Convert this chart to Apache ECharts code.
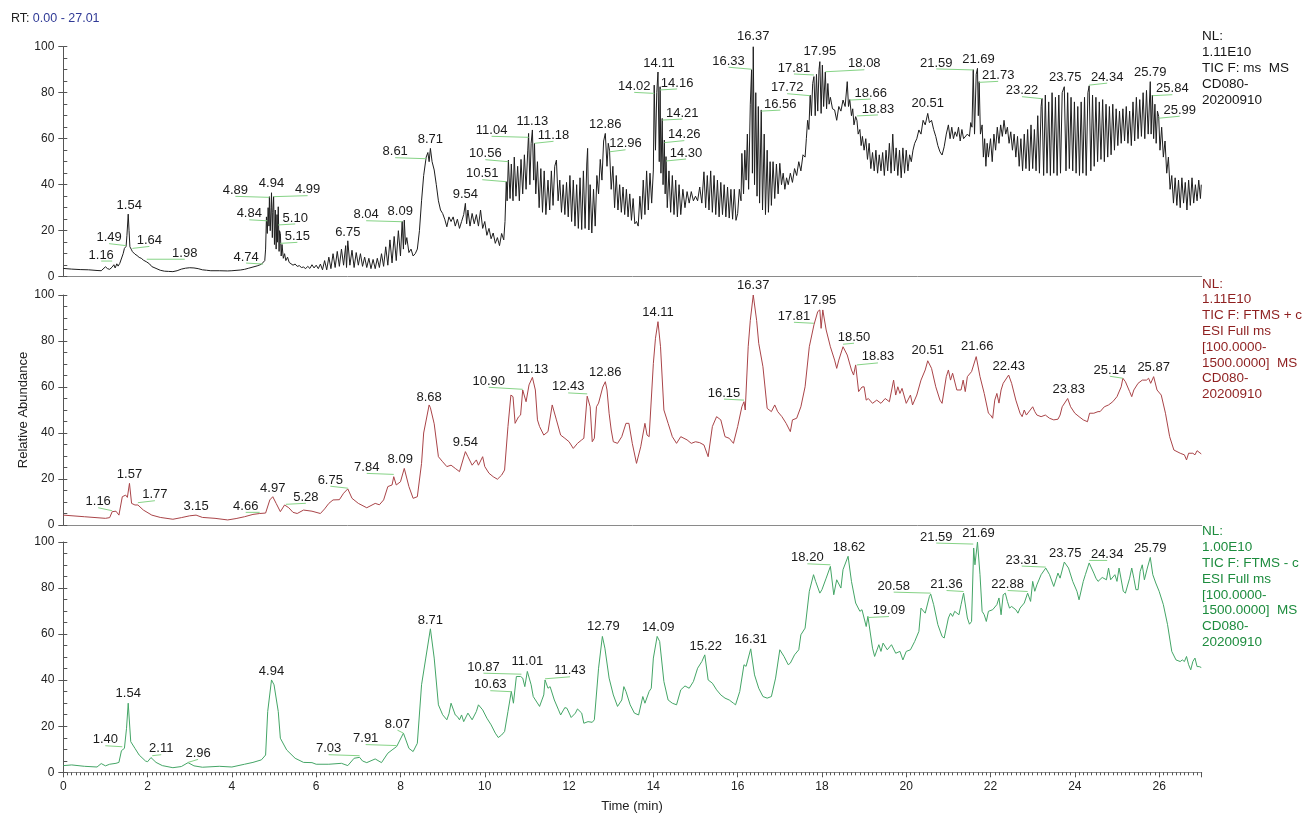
<!DOCTYPE html>
<html>
<head>
<meta charset="utf-8">
<title>TIC CD080-20200910</title>
<script src="https://cdn.jsdelivr.net/npm/echarts@6/dist/echarts.min.js"></script>
<style>
    html, body { margin: 0; padding: 0; background: #fff; }
    #tic { width: 1302px; height: 813px; }
</style>
</head>
<body>
<div id="tic"></div>
<script>
// 数据: [保留时间(min), 相对丰度]
var topTrace = [
    [0,3.6],[0.2,3.3],[0.4,3.1],[0.6,3],[0.8,2.7],[0.9,2.6],[1.0,4.3],[1.05,3.5],[1.1,3.2],[1.16,4.2],[1.2,5.2],[1.23,3.8],[1.27,5.6],[1.3,4.6],[1.34,5.8],[1.38,6.5],[1.42,10],[1.45,12.3],[1.49,13.2],[1.51,18],[1.54,27.2],[1.56,20],[1.58,13],[1.61,12],[1.64,10.9],[1.7,9.8],[1.75,9.2],[1.8,8.4],[1.85,8],[1.9,7.2],[1.94,7.5],[1.98,6.4],[2.05,5.5],[2.1,4.4],[2.2,3.6],[2.3,2.8],[2.4,2.4],[2.5,2.3],[2.6,2.2],[2.7,2.6],[2.8,3.3],[2.9,3.7],[3.0,3.9],[3.1,3.8],[3.2,3.5],[3.3,3.0],[3.4,2.8],[3.5,2.6],[3.7,2.6],[3.9,2.5],[4.0,2.6],[4.2,2.9],[4.3,3.2],[4.4,3.7],[4.5,4.2],[4.6,4.7],[4.7,5.4],[4.74,5.8],[4.78,7],[4.8,12],[4.82,26],[4.84,18.8],[4.86,30],[4.88,22],[4.89,34.8],[4.91,20],[4.93,30],[4.94,36.5],[4.96,17],[4.97,28],[4.99,34.8],[5.01,14],[5.03,29],[5.05,12],[5.07,27],[5.08,15],[5.10,30.4],[5.12,11],[5.13,20],[5.15,18.8],[5.17,9],[5.19,14],[5.22,8],[5.25,10],[5.28,7],[5.32,8.5],[5.36,6.2],[5.4,6.8],[5.45,5],[5.5,5.5],[5.55,4.5],[5.6,4.8],[5.65,4],[5.7,4.2],[5.75,3.5],[5.8,4.5],[5.85,3.6],[5.9,5.2],[5.95,3.8],[6.0,5],[6.05,3.5],[6.1,5.5],[6.15,3],
    [6.2,7],[6.25,3],[6.3,8.5],[6.35,3.5],[6.4,10],[6.45,4],[6.5,11],[6.55,4.5],[6.6,12],[6.65,5],[6.7,13.5],[6.72,4],[6.75,15.6],[6.8,5],[6.85,11.5],[6.9,4],[6.95,10.5],[7.0,5],[7.05,10],[7.1,4.5],[7.15,8.5],[7.2,4],[7.25,8],[7.3,3.5],[7.35,7.5],[7.4,3.5],[7.45,8],[7.5,4],[7.55,10],[7.6,4.5],[7.65,13],[7.7,5],[7.75,16],[7.8,6],[7.85,17.5],[7.9,7],[7.95,20],[8.0,9],[8.04,24],[8.07,12],[8.09,24.6],[8.12,14],[8.15,17],[8.2,10.5],[8.25,12],[8.3,9],[8.35,10],[8.4,12],[8.45,20],[8.5,33],[8.55,44],[8.6,50.7],[8.61,52],[8.65,54],[8.68,50],[8.71,55.8],[8.75,50],[8.8,46.4],[8.85,40],[8.9,33],[8.95,29],[9.0,27.5],[9.05,25],[9.1,21.7],
    [9.15,26],[9.2,24],[9.25,26],[9.3,22],[9.35,25],[9.4,21],[9.45,24],[9.5,27],[9.54,31.9],[9.57,23],[9.6,29],[9.65,22],[9.7,27.5],[9.75,23],[9.8,27],[9.85,22],[9.9,29],[9.95,21],[10.0,24],[10.05,18],[10.1,21],[10.15,16.5],[10.2,19],[10.25,14.5],[10.3,17],[10.35,13.5],[10.4,18.8],[10.45,16],[10.48,24],[10.51,41.3],
    [10.53,33],[10.56,50.7],[10.6,34],[10.63,49],[10.67,33],[10.7,52],[10.74,35],[10.78,48],[10.82,33],[10.86,51],[10.9,36],[10.94,53],[10.98,38],[11.02,55],[11.04,62.3],[11.07,40],[11.1,58],[11.13,63.8],[11.16,42],[11.18,58],[11.21,36],[11.25,50],[11.29,30],[11.33,47],[11.37,28],[11.41,46],[11.45,27],[11.5,42],[11.54,29],[11.58,46],[11.62,31],[11.66,48],[11.7,50.7],[11.74,33],[11.78,42],[11.82,28],[11.86,40],[11.9,27],[11.94,41],[11.98,26],[12.02,44],[12.06,24],[12.1,42],[12.14,22],[12.18,40],[12.22,21],[12.26,43],[12.3,20.5],[12.34,46],[12.38,21],[12.42,49],[12.44,55.8],[12.47,20.3],[12.5,40],[12.54,19],[12.58,38],[12.62,22],[12.66,44],[12.7,36],[12.74,51],[12.78,42],[12.82,59],[12.86,62.3],[12.9,48],[12.93,58],[12.96,55],[13.0,38],[13.04,48],[13.08,30],[13.12,44],[13.16,29],[13.2,40],[13.24,28],[13.28,39],[13.32,27],[13.36,38],[13.4,26],[13.44,36],[13.48,24.5],[13.52,34],[13.56,23],[13.6,24],[13.64,22],[13.68,35],[13.72,25],[13.76,42],[13.8,27],[13.84,46],[13.88,29],[13.92,45],[13.96,32],[14.0,46.4],
    [14.02,83.3],[14.05,55],[14.08,80],[14.11,89],[14.14,50],[14.16,82.6],[14.18,45],[14.21,68.8],[14.23,40],[14.26,59.4],[14.28,36],[14.3,52.2],[14.33,30],[14.37,46],[14.41,28],[14.45,44],[14.49,27],[14.53,42],[14.57,26],[14.61,40],[14.65,27],[14.7,38],[14.75,30],[14.8,37],[14.85,32],[14.9,37],[14.95,33],[15.0,35],[15.05,33],[15.1,39],[15.15,32],[15.2,45.6],[15.24,30],[15.28,44],[15.32,29],[15.36,46],[15.4,28],[15.44,44],[15.48,27],[15.52,42],[15.56,26],[15.6,41],[15.64,27],[15.68,40],[15.72,26],[15.76,39],[15.8,25.5],[15.84,38],[15.88,25],[15.92,38],[15.96,24.5],[16.0,27.5],[16.04,38],[16.08,33],[16.1,53.6],[16.14,36],[16.17,55],[16.2,42],[16.23,62],[16.26,38],[16.3,75],[16.33,90],[16.35,45],[16.37,100],[16.4,40],[16.43,80],[16.46,35],[16.49,74],[16.52,32],[16.56,72.5],[16.59,29],[16.63,62],[16.66,27],[16.7,55],[16.73,28],[16.77,50],[16.8,31],[16.84,50],[16.88,34],[16.92,49],[16.96,36],[17.0,49.3],[17.04,40],[17.08,45],[17.12,38],[17.16,43],[17.2,40],[17.25,45],[17.3,41],[17.35,47],[17.4,44],[17.45,50],[17.5,46],[17.55,53],[17.6,52],[17.63,60],[17.66,68],[17.69,64],[17.72,79],[17.75,70],[17.78,84],[17.81,87],[17.84,70],[17.87,88],[17.9,72],[17.93,90],[17.95,93.5],[17.98,71],[18.01,92],[18.04,74],[18.08,89],[18.11,73],[18.14,84],[18.17,75],[18.2,78],[18.25,73],[18.3,72.5],[18.35,68],[18.4,74],[18.45,72],[18.5,76.8],[18.55,74],[18.6,84.8],[18.63,74],[18.66,77],[18.7,70],[18.73,73],[18.76,66],[18.8,69.6],[18.83,68],[18.86,62],[18.9,64],[18.93,57],[18.96,61],[19.0,55],
    [19.04,60],[19.08,51],[19.12,58],[19.16,47],[19.2,54],[19.24,46],[19.28,55],[19.32,45],[19.36,53],[19.4,46],[19.44,54],[19.48,44],[19.52,55],[19.56,46],[19.6,58],[19.64,45],[19.68,62],[19.72,46],[19.76,56],[19.8,44],[19.84,55],[19.88,43],[19.92,56],[19.96,45],[20.0,55],[20.04,46],[20.08,53],[20.12,50],[20.16,55],[20.2,58],[20.25,60],[20.3,63.8],[20.35,62],[20.4,68],[20.45,66],[20.51,71],[20.55,67],[20.6,68],[20.65,64],[20.7,61],[20.75,57],[20.8,54.3],[20.85,52.9],[20.9,56.5],[20.95,62],[21.0,66],[21.04,60],[21.08,65],[21.12,60],[21.16,63],[21.2,61],[21.24,65],[21.28,59],[21.32,64],[21.36,60],[21.4,59.4],[21.45,62],[21.5,61],[21.53,67],[21.56,65],[21.59,90],[21.62,62],[21.66,88],[21.69,90.6],[21.71,70],[21.73,84.8],[21.76,62],[21.8,66],[21.83,52],[21.86,60],[21.89,48],[21.92,58],[21.95,52],[22.0,60],[22.04,50],[22.08,62],[22.12,55],[22.16,65],[22.2,58],[22.24,66],[22.28,61],[22.32,68],[22.36,62],[22.4,65],[22.44,58],[22.48,63],[22.52,55],[22.56,62],[22.6,52],[22.64,61],[22.68,48],[22.72,60],
    [22.76,46],[22.8,62],[22.84,47],[22.88,64],[22.92,46],[22.96,66],[23.0,47],[23.04,64],[23.08,46],[23.12,70],[23.16,45],[23.2,74],[23.22,77.5],[23.26,44],[23.3,79],[23.34,45],[23.38,76],[23.42,44],[23.46,80],[23.5,45],[23.54,78],[23.58,44],[23.62,79],[23.66,45],[23.7,80],[23.75,82.6],[23.79,46],[23.83,80],[23.87,47],[23.91,78],[23.95,46],[23.99,76],[24.03,45],[24.07,74],[24.11,44],[24.15,76],[24.19,45],[24.23,78],[24.27,44],[24.31,80],[24.34,83],[24.38,46],[24.42,79],[24.46,48],[24.5,78],[24.54,50],[24.58,76],[24.62,51],[24.66,77],[24.7,50],[24.74,75],[24.78,52],[24.82,74],[24.86,53],[24.9,75],[24.94,55],[24.98,73],[25.02,57],[25.06,72],[25.1,58],[25.14,73],[25.18,59],[25.22,74],[25.26,58],[25.3,72],[25.34,57],[25.38,76],[25.42,59],[25.46,78],[25.5,60],[25.54,77],[25.58,61],[25.62,80],[25.66,60],[25.7,81],[25.74,62],[25.79,84.8],[25.81,62],[25.84,79],[25.87,60],[25.9,75],[25.93,58],[25.96,72],[25.99,69.6],[26.02,55],[26.06,65],[26.1,52],[26.14,59],[26.18,45],[26.22,52],
    [26.26,38],[26.3,44],[26.34,32],[26.38,43],[26.42,31],[26.46,42],[26.5,30],[26.54,43],[26.58,32],[26.62,41],[26.66,29],[26.7,42],[26.74,31],[26.78,43],[26.82,32],[26.86,40],[26.9,33],[26.94,42],[26.98,34],[27.0,40]
];
var midTrace = [
    [0,4.3],[0.5,3.6],[1.0,2.9],[1.1,3.2],[1.16,5.8],[1.25,6],[1.32,4.3],[1.4,12.3],[1.48,13],[1.52,12],[1.57,18.1],[1.62,9.4],[1.7,8.7],[1.77,8.7],[1.9,6.5],[2.1,4.3],[2.3,3.3],[2.6,2.5],[2.8,3.2],[3.0,4],[3.15,4.3],[3.3,3.3],[3.6,2.9],[3.9,2.2],[4.1,2.8],[4.3,3.6],[4.5,4.6],[4.66,5],[4.8,5.2],[4.9,10.9],[4.97,12.3],[5.05,9.4],[5.15,5.8],[5.25,8.7],[5.28,8],[5.35,7.5],[5.45,5.5],[5.55,5],[5.7,6.5],[5.9,6],[6.1,5],[6.2,7],[6.3,9.4],[6.4,10.9],[6.55,11],[6.65,13.8],[6.75,15.7],[6.85,11.6],[7.0,9.4],[7.2,7.5],[7.4,9.4],[7.5,8.8],[7.6,10.9],[7.7,16.7],[7.8,17.4],[7.84,21],[7.9,17.4],[8.0,18.8],[8.09,24.6],[8.2,16.7],[8.3,11.6],[8.4,12.3],[8.5,26.8],[8.55,40],[8.68,52.2],[8.71,51],[8.8,44],[8.9,29.7],[9.0,27.5],[9.1,25.4],[9.2,26],[9.3,24.6],[9.4,23.2],[9.54,31.9],[9.6,29.7],[9.7,26],[9.8,28.3],[9.85,26],[9.95,29.7],[10.0,25.4],[10.1,22.5],[10.2,21],[10.3,19.9],[10.4,21.7],[10.47,23.9],[10.55,42.8],[10.62,56.5],[10.67,55.8],[10.72,44.2],[10.8,47],[10.85,47.8],[10.9,58.7],[10.98,53.6],[11.05,60.9],[11.13,64.2],[11.2,58.7],[11.25,45.7],[11.3,42.8],[11.4,39.1],[11.5,40.6],[11.6,52.2],[11.7,45.7],[11.8,39.1],[11.9,37.7],[12.0,36.2],[12.1,33.3],[12.2,35.5],[12.3,37],[12.35,37.7],[12.43,56],[12.5,51.4],[12.55,36.2],[12.6,37.7],[12.65,51.4],[12.7,53],[12.8,60],[12.86,62.3],[12.9,58.7],[12.95,48.6],[13.0,41.3],[13.05,36.2],[13.15,35.5],[13.25,38.4],[13.35,44.2],[13.42,44.2],[13.5,35.5],[13.6,26.8],[13.7,34],[13.8,44.2],[13.85,39.1],[13.9,38.4],[14.0,70.3],[14.05,81.2],[14.11,88.4],[14.17,77.5],[14.25,50],[14.35,44.2],[14.45,38.4],[14.55,35.5],[14.65,38.4],[14.8,37],[14.9,35.5],[15.0,36.2],[15.1,35.8],[15.2,34.8],[15.3,29.7],[15.4,42.8],[15.5,47.1],[15.6,45.7],[15.7,38.4],[15.8,37.7],[15.9,35.5],[16.0,42.8],[16.1,51.4],[16.15,53.6],[16.18,50],[16.25,77.5],[16.3,89],[16.37,100],[16.45,89],[16.5,79],[16.6,68.8],[16.7,50.7],[16.8,49.3],[16.88,52.2],[16.95,49.3],[17.05,47.1],[17.15,44.2],[17.25,40.6],[17.3,45.7],[17.4,46.4],[17.5,51.4],[17.6,60.1],[17.7,77.5],[17.81,87],[17.9,92.8],[17.95,93.5],[17.98,85.5],[18.02,93.5],[18.1,84.8],[18.2,77.5],[18.3,71.7],[18.35,68.1],[18.4,71.7],[18.5,77.5],[18.6,73.9],[18.7,67.4],[18.75,65.2],[18.8,69.6],[18.83,68.8],[18.87,58],[18.95,60],[19.0,60.1],[19.05,54.3],[19.1,55],[19.2,52.9],[19.3,54.3],[19.4,52.9],[19.5,55],[19.6,53.6],[19.7,63],[19.75,56.5],[19.8,60.1],[19.85,57.2],[19.9,59.4],[20.0,52.9],[20.1,56.5],[20.15,52.2],[20.25,56.5],[20.35,63],[20.45,67.4],[20.51,71.4],[20.6,68.1],[20.7,60.1],[20.8,54.3],[20.85,52.9],[20.95,64.5],[21.0,67.4],[21.05,63],[21.1,66],[21.2,58.7],[21.3,58.7],[21.35,63],[21.4,58],[21.45,64.5],[21.55,66.7],[21.66,73.2],[21.75,64.5],[21.85,57.2],[21.95,48.6],[22.0,47.8],[22.05,46.4],[22.1,54.3],[22.15,57.2],[22.2,53],[22.25,58.7],[22.3,61.6],[22.43,65.2],[22.5,61.6],[22.6,54.3],[22.7,48.6],[22.75,47.1],[22.8,50],[22.85,47.8],[23.0,51.4],[23.05,49.3],[23.1,47.8],[23.2,47.1],[23.3,47.8],[23.4,46.4],[23.5,45.7],[23.6,46],[23.65,47.8],[23.7,51.4],[23.83,55],[23.9,51.4],[24.0,48.6],[24.1,47.1],[24.2,45.7],[24.3,44.9],[24.35,48.6],[24.45,48.6],[24.55,49.3],[24.6,49.3],[24.7,51.4],[24.8,52.2],[24.9,53.6],[25.0,55.8],[25.1,60.1],[25.14,63.8],[25.2,62.3],[25.3,58],[25.35,55.8],[25.4,58.7],[25.5,61.6],[25.6,63],[25.7,63],[25.75,63.8],[25.8,61.6],[25.87,64.5],[25.95,58.7],[26.05,56.5],[26.15,48.6],[26.25,38.4],[26.35,32.6],[26.5,31.2],[26.6,30.5],[26.65,28.3],[26.7,31.2],[26.8,31.2],[26.85,30.5],[26.9,32.3],[27.0,30.9]
];
var botTrace = [
    [0,2.9],[0.2,3.2],[0.5,2.6],[0.8,2.3],[0.9,3.8],[1.0,2.8],[1.1,3.5],[1.25,3.9],[1.32,4.3],[1.38,9.4],[1.45,10.4],[1.5,19.1],[1.54,30],[1.6,13.3],[1.7,10.4],[1.8,7.5],[1.95,4.9],[2.0,4.6],[2.08,6.4],[2.11,6.5],[2.2,4.3],[2.35,2.9],[2.6,2],[2.8,2.5],[2.96,4.2],[3.1,2.8],[3.3,2.2],[3.7,2.6],[4.0,2.3],[4.3,3.5],[4.5,4.3],[4.7,5.4],[4.8,7.5],[4.85,26.4],[4.94,40.1],[5.0,38],[5.1,26.4],[5.15,14.8],[5.3,9.7],[5.5,6.1],[5.7,4.3],[5.9,4.2],[6.0,3.5],[6.3,3.5],[6.6,3.9],[6.75,2.9],[6.9,6.1],[7.03,6.5],[7.1,4.9],[7.2,4.2],[7.4,5.8],[7.55,4.2],[7.7,8.3],[7.8,9.7],[7.91,11.2],[7.95,10.4],[8.07,17],[8.2,10.4],[8.3,9],[8.4,12.6],[8.5,38],[8.6,49.6],[8.71,62.3],[8.8,49.6],[8.9,29.3],[9.0,25],[9.1,22.8],[9.15,25.4],[9.2,30],[9.3,24.9],[9.35,24.2],[9.4,22.8],[9.45,24.9],[9.5,22],[9.6,25.7],[9.7,22.8],[9.8,26.4],[9.85,29.3],[9.95,27.1],[10.05,23.5],[10.15,20.6],[10.25,17],[10.32,15.1],[10.4,16.2],[10.47,17.7],[10.55,26.4],[10.63,35.1],[10.68,30],[10.75,41.6],[10.85,41.6],[10.9,40.9],[10.95,37.2],[11.01,43.8],[11.1,38],[11.15,32.9],[11.3,28.6],[11.4,33.6],[11.43,40.1],[11.5,36.5],[11.55,37.2],[11.65,31.4],[11.75,27.1],[11.8,24.9],[11.9,28.1],[11.95,27.8],[12.05,23.8],[12.15,25.7],[12.2,27.5],[12.3,25.7],[12.35,21.3],[12.45,22],[12.55,21.7],[12.6,22.8],[12.7,45.2],[12.79,59],[12.85,53.9],[12.95,40.9],[13.05,33.6],[13.15,28.6],[13.25,31.4],[13.3,37.2],[13.35,35.1],[13.45,29.3],[13.55,25.7],[13.65,24.9],[13.75,32.9],[13.8,30],[13.9,35.1],[13.95,36.5],[14.0,49.6],[14.09,59],[14.15,56.8],[14.25,39.4],[14.35,31.4],[14.45,30],[14.55,29.3],[14.65,35.8],[14.75,37.5],[14.85,36.5],[14.95,39.4],[15.05,45.2],[15.15,48.1],[15.22,51],[15.3,40.1],[15.4,38.7],[15.5,35.8],[15.6,33.6],[15.7,32.2],[15.8,31.4],[15.9,30],[15.95,29.3],[16.05,35.1],[16.15,46.7],[16.2,46],[16.31,53.6],[16.4,42.3],[16.5,36.5],[16.6,32.9],[16.7,32.2],[16.8,32.9],[16.9,40.9],[17.0,53.2],[17.1,50.3],[17.2,46.7],[17.25,47.4],[17.35,51],[17.45,53.2],[17.5,59.7],[17.6,62.6],[17.7,78.6],[17.8,85.8],[17.85,82.9],[17.95,77.8],[18.0,79.3],[18.1,84.3],[18.2,89.4],[18.28,77.1],[18.35,83.6],[18.45,80],[18.5,88],[18.62,93.8],[18.7,82.9],[18.8,73.5],[18.9,69.9],[18.95,70.6],[19.05,63.3],[19.09,67.7],[19.2,53.9],[19.25,50.3],[19.35,55.4],[19.4,52.5],[19.45,56.1],[19.55,53.2],[19.65,55.4],[19.75,51.7],[19.85,52.5],[19.92,48.8],[20.0,52.5],[20.1,53.2],[20.2,56.8],[20.3,61.2],[20.35,71.3],[20.45,69.1],[20.55,76.4],[20.58,77.4],[20.65,72.8],[20.75,64.1],[20.85,59],[20.9,58.3],[21.0,67],[21.05,69.1],[21.1,67.7],[21.15,69.9],[21.25,68.4],[21.3,72.8],[21.36,77.8],[21.45,67],[21.5,64.3],[21.55,65.5],[21.6,97.4],[21.63,90.1],[21.69,100],[21.75,85.8],[21.8,69.9],[21.85,68.4],[21.9,65.5],[21.95,69.9],[22.05,70.6],[22.15,72.8],[22.2,75.7],[22.25,68.4],[22.3,77.1],[22.35,77.8],[22.4,74.2],[22.45,71.3],[22.5,72],[22.6,70.6],[22.65,69.1],[22.7,71.3],[22.8,73.5],[22.88,77.8],[22.95,74.2],[23.0,82.9],[23.05,78.6],[23.1,81.4],[23.2,85.8],[23.31,88.7],[23.4,85.8],[23.5,80.7],[23.6,86.5],[23.65,84.3],[23.75,91.3],[23.85,88.7],[23.95,82.9],[24.05,78.6],[24.1,74.9],[24.2,82.9],[24.25,85.8],[24.34,90.9],[24.45,86.5],[24.5,84.3],[24.55,82.9],[24.65,84.6],[24.75,83.6],[24.8,88.7],[24.85,83.6],[24.95,85.8],[25.0,82.9],[25.05,88.7],[25.15,78.6],[25.2,77.8],[25.3,84.3],[25.35,88.7],[25.4,84.3],[25.45,79.3],[25.5,79.3],[25.55,87.2],[25.6,90.1],[25.65,83.6],[25.72,88.7],[25.79,93.3],[25.85,85.8],[25.92,82.2],[26.0,78.6],[26.1,72.8],[26.2,64.1],[26.3,52.5],[26.4,48.8],[26.5,48.1],[26.55,48.8],[26.6,48.1],[26.65,50.3],[26.7,46.7],[26.75,44.5],[26.8,48.1],[26.85,49.6],[26.9,45.9],[26.95,45.9],[27.0,45.5]
];

// 峰标注: [保留时间, 峰高]
var topPeaks = [[1.16,6.8],[1.49,13.5],[1.54,27.2],[1.64,12.3],[1.98,7.6],[4.74,5.5],[4.84,24.3],[4.89,34.5],[4.94,36.5],[4.99,34.8],[5.10,22.5],[5.15,14.5],[6.75,15.6],[8.04,23.9],[8.09,25],[8.61,51.3],[8.71,55.8],[9.54,31.9],[10.51,41.3],[10.56,50],[11.04,60.6],[11.13,63.8],[11.18,58],[12.86,62.3],[12.96,54.3],[14.02,79.7],[14.11,89.1],[14.16,81.2],[14.21,68.1],[14.26,58.3],[14.30,50.3],[16.33,90.2],[16.37,100],[16.56,72],[17.72,78.7],[17.81,87.7],[17.95,93.9],[18.08,89.1],[18.66,76.8],[18.83,69.9],[20.51,71],[21.59,89.9],[21.69,90.6],[21.73,84.5],[23.22,77.4],[23.75,82.6],[24.34,83.3],[25.79,84.8],[25.84,78.7],[25.99,68.9]];
var midPeaks = [[1.16,6.2],[1.57,18.1],[1.77,9.7],[3.15,4.3],[4.66,5.5],[4.97,12.3],[5.28,9],[6.75,16],[7.84,22],[8.09,24.6],[8.68,52.2],[9.54,31.9],[10.90,59],[11.13,64.2],[12.43,57],[12.86,62.3],[14.11,88.4],[16.15,54.3],[16.37,100],[17.81,87.7],[17.95,93.5],[18.50,78.6],[18.83,69.6],[20.51,71.4],[21.66,73.2],[22.43,65.2],[23.83,55],[25.14,63.8],[25.87,64.5]];
var botPeaks = [[1.40,11.1],[1.54,30],[2.11,7.2],[2.96,4.3],[4.94,40.1],[7.03,7.2],[7.91,11.6],[8.07,17],[8.71,61.9],[10.63,35],[10.87,42.6],[11.01,43.8],[11.43,40.6],[12.79,59],[14.09,59],[15.22,51],[16.31,53.6],[18.20,90.1],[18.62,93.7],[19.09,67.2],[20.58,77.8],[21.36,78.5],[21.59,99.1],[21.69,100],[22.88,78.5],[23.31,89.1],[23.75,91.3],[24.34,92],[25.79,93.3]];

// 标注文字相对峰顶的像素偏移 [dx, dy] (布局用)
var topLabelPos = [[-11,-6],[-17,-8],[1,-9],[17,-8],[38,-6],[-17,-7],[-18,-7],[-34,-7],[0,-9],[34,-7],[17,-7],[17,-7],[0,-8.5],[-36,-7],[-4,-8],[-31,-7],[0,-9],[0,-9],[-24,-8],[-23,-8],[-37,-7],[0,-9],[19,-8],[0,-8.5],[16,-8],[-20,-7],[1,-8.5],[17,-7],[20,-7],[20,-8],[20,-8],[-23,-8],[0,-10],[19,-7],[-23,-8],[-20,-7],[0,-9],[39,-8],[21,-7],[21,-7],[0,-10],[-37,-7],[1,-9],[19,-7],[-20,-8],[1,-9],[18,-8],[0,-9],[20,-7],[21,-8]];
var midLabelPos = [[-14,-9],[0,-9],[17,-8],[0,-9],[-14,-6],[0,-8.5],[20,-7],[-17.5,-8],[-27,-7],[-4,-8.5],[0,-8],[0,-9],[-34,-8],[0,-8],[-19,-7],[0,-9],[0,-9.5],[-20,-7],[0,-10],[-20,-7],[0,-10],[11,-7],[21,-8],[0,-10],[1,-10],[0,-9],[1,-9],[-13,-8],[0,-9.5]];
var botLabelPos = [[-17,-7],[0,-10],[9,-7],[10,-9],[0,-9],[-31,-7],[-31,-7],[-6,-9],[0,-9],[-21,-7],[-38,-7],[0,-10],[25,-8],[1,-10],[1,-9],[1,-8],[0,-9],[-23,-7],[1,-9],[21,-7],[-37,-7],[-17,-7],[-37,-7],[1,-9],[-20,-7],[-24,-7],[1,-9],[18,-6],[0,-9]];

var topInfo = ['NL:', '1.11E10', 'TIC F: ms  MS', 'CD080-', '20200910'];
var midInfo = ['NL:', '1.11E10', 'TIC F: FTMS + c', 'ESI Full ms', '[100.0000-', '1500.0000]  MS', 'CD080-', '20200910'];
var botInfo = ['NL:', '1.00E10', 'TIC F: FTMS - c', 'ESI Full ms', '[100.0000-', '1500.0000]  MS', 'CD080-', '20200910'];

(function() {
    var FONT = '"Liberation Sans", Arial, sans-serif';
    var rtMax = 27.01;
    //1.实例化对象
    var myChart = echarts.init(document.querySelector('#tic'), null, { renderer: 'canvas' });

    var grids = [
        { left: 63.3, right: 100.3, top: 46.7, height: 230 },
        { left: 63.3, right: 100.3, top: 295, height: 230 },
        { left: 63.3, right: 100.3, top: 542, height: 230.3 }
    ];

    // x 轴, 只有最下面一个显示刻度
    function makeX(idx, full) {
        return {
            type: 'value',
            gridIndex: idx,
            min: 0,
            max: rtMax,
            interval: 2,
            axisLine: { show: true, onZero: false, lineStyle: { color: '#8a8a8a', width: 1 } },
            axisTick: { show: full, length: 5, lineStyle: { color: '#555' } },
            minorTick: { show: full, splitNumber: 20, length: 3, lineStyle: { color: '#555' } },
            axisLabel: {
                show: full, color: '#222', fontSize: 12, fontFamily: FONT, margin: 8,
                showMaxLabel: false
            },
            splitLine: { show: false }
        };
    }
    // y 轴: 主刻度朝外, 小刻度朝里 (另一根轴叠加在左侧)
    function makeY(idx) {
        return [{
            type: 'value',
            gridIndex: idx,
            position: 'left',
            min: 0,
            max: 100,
            interval: 20,
            axisLine: { show: true, lineStyle: { color: '#555' } },
            axisTick: { show: true, length: 5, lineStyle: { color: '#555' } },
            axisLabel: { color: '#222', fontSize: 12, fontFamily: FONT, margin: 9 },
            splitLine: { show: false }
        }, {
            type: 'value',
            gridIndex: idx,
            position: 'left',
            offset: 0,
            min: 0,
            max: 100,
            interval: 5,
            axisLine: { show: false },
            axisTick: { show: true, inside: true, length: 4, lineStyle: { color: '#555' } },
            axisLabel: { show: false },
            splitLine: { show: false }
        }];
    }

    // 峰标注 (文字 + 绿色引线)
    function renderPeak(params, api) {
        var p = api.coord([api.value(0), api.value(1)]);
        var dx = api.value(2);
        var dy = api.value(3);
        var kids = [];
        if (Math.abs(dx) > 5) {
            kids.push({
                type: 'line',
                shape: { x1: p[0], y1: p[1], x2: p[0] + dx, y2: p[1] + dy + 6 },
                style: { stroke: '#86d386', lineWidth: 1 }
            });
        }
        kids.push({
            type: 'text',
            x: p[0] + dx,
            y: p[1] + dy,
            style: {
                text: api.value(0).toFixed(2),
                fill: '#1a1a1a',
                fontSize: 13,
                fontFamily: FONT,
                align: 'center',
                verticalAlign: 'middle'
            }
        });
        return { type: 'group', children: kids };
    }
    function zip(peaks, pos) {
        return peaks.map(function(p, i) {
            return [p[0], p[1], pos[i][0], pos[i][1]];
        });
    }
    function traceSeries(idx, data, color) {
        return {
            type: 'line',
            xAxisIndex: idx,
            yAxisIndex: idx * 2,
            data: data,
            showSymbol: false,
            symbol: 'none',
            lineStyle: { color: color, width: 1 },
            animation: false,
            z: 2
        };
    }
    function labelSeries(idx, data) {
        return {
            type: 'custom',
            xAxisIndex: idx,
            yAxisIndex: idx * 2,
            renderItem: renderPeak,
            data: data,
            encode: { x: 0, y: 1 },
            clip: false,
            silent: true,
            animation: false,
            z: 5
        };
    }
    function infoText(lines, top, color) {
        return {
            type: 'text',
            left: 1202,
            top: top,
            style: {
                text: lines.join('\n'),
                fill: color,
                fontSize: 13.5,
                lineHeight: 15.8,
                fontFamily: FONT
            }
        };
    }

    //2.指定配置项和数据
    var option = {
        animation: false,
        backgroundColor: '#ffffff',
        grid: grids,
        xAxis: [makeX(0, false), makeX(1, false), makeX(2, true)],
        yAxis: makeY(0).concat(makeY(1)).concat(makeY(2)),
        series: [
            traceSeries(0, topTrace, '#1e1e1e'),
            traceSeries(1, midTrace, '#a94448'),
            traceSeries(2, botTrace, '#44a566'),
            labelSeries(0, zip(topPeaks, topLabelPos)),
            labelSeries(1, zip(midPeaks, midLabelPos)),
            labelSeries(2, zip(botPeaks, botLabelPos))
        ],
        graphic: [
            {
                type: 'text',
                left: 11,
                top: 12,
                style: {
                    text: '{a|RT:} {b|0.00 - 27.01}',
                    fontFamily: FONT,
                    rich: {
                        a: { fill: '#222', fontSize: 12.5, fontFamily: FONT },
                        b: { fill: '#303a96', fontSize: 12.5, fontFamily: FONT }
                    }
                }
            },
            infoText(topInfo, 28.8, '#151515'),
            infoText(midInfo, 276, '#8e1f1f'),
            infoText(botInfo, 523.8, '#1d8c3e'),
            {
                type: 'text',
                x: 23,
                y: 410,
                rotation: Math.PI / 2,
                style: {
                    text: 'Relative Abundance',
                    fill: '#222',
                    fontSize: 13,
                    fontFamily: FONT,
                    align: 'center',
                    verticalAlign: 'middle'
                }
            },
            {
                type: 'text',
                x: 632,
                y: 806,
                style: {
                    text: 'Time (min)',
                    fill: '#222',
                    fontSize: 13,
                    fontFamily: FONT,
                    align: 'center',
                    verticalAlign: 'middle'
                }
            }
        ]
    };
    //3.把配置项给实例对象
    myChart.setOption(option);
    //4.让图表跟随屏幕自动去适应
    window.addEventListener('resize', function() {
        myChart.resize();
    });
})();
</script>
</body>
</html>
